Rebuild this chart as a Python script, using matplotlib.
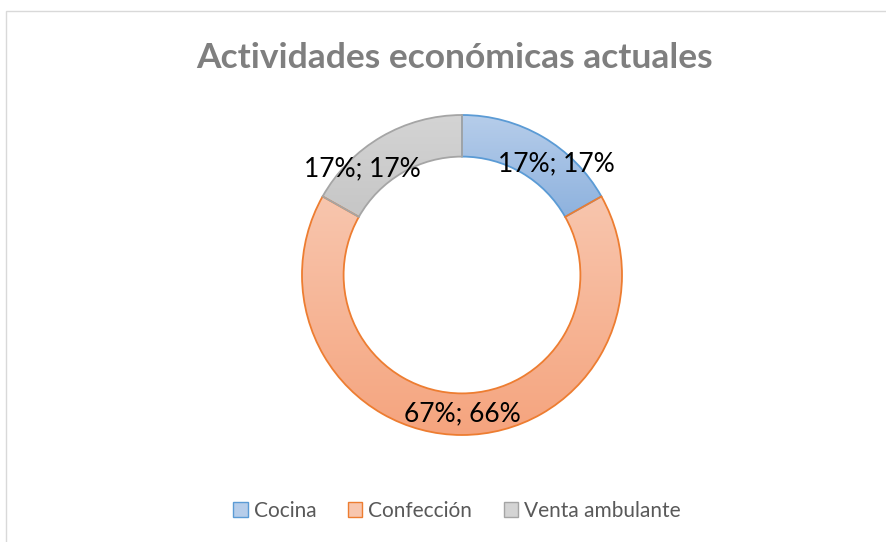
import numpy as np
import matplotlib
matplotlib.use("Agg")
from matplotlib import pyplot as plt
from matplotlib.patches import Wedge, Rectangle
from matplotlib.colors import LinearSegmentedColormap

# datos
categorias = ["Cocina", "Confección", "Venta ambulante"]
valores = [0.17, 0.67, 0.17]

# estilos
color_top = ["#b6cdea", "#f8c6ae", "#d4d4d4"]
color_bot = ["#8eb2de", "#f5a47e", "#c6c6c6"]
color_borde = ["#5b9bd5", "#ed7d31", "#a5a5a5"]
label_nudge = [-10, 0, 13]   # grados, como lo coloca Excel
label_dr = [0.04, 0.0, 0.04]

plt.rcParams['font.family'] = ['Lato', 'DejaVu Sans']

fig = plt.figure(figsize=(8.87, 5.42), dpi=100)

# marco del gráfico
fig.patches.append(Rectangle((6 / 887, -0.01), 1.0, 1 - 11 / 542 + 0.01,
                             transform=fig.transFigure, fill=False,
                             edgecolor="#d9d9d9", linewidth=1.0))

fig.text(455 / 887, 1 - 58 / 542, "Actividades económicas actuales",
         ha="center", va="center", fontsize=25.5, fontweight="bold", color="#7f7f7f")

# ejes del anillo
half = 176
cx, cy = 462, 542 - 275
ax = fig.add_axes([(cx - half) / 887, (cy - half) / 542, 2 * half / 887, 2 * half / 542])
lim = half / 160
ax.set_xlim(-lim, lim)
ax.set_ylim(-lim, lim)
ax.set_aspect("equal")
ax.axis("off")

r_out = 1.0
ancho = 0.26
total = sum(valores)
porcentajes = [v / total for v in valores]

ang = 90.0
for i, v in enumerate(valores):
    theta2 = ang
    theta1 = ang - 360 * v / total
    w = Wedge((0, 0), r_out, theta1, theta2, width=ancho,
              facecolor="none", edgecolor=color_borde[i], linewidth=1.3, zorder=3)
    ax.add_patch(w)

    # relleno con degradado vertical, recortado al sector
    t = np.linspace(theta1, theta2, 200) * np.pi / 180
    ys = np.concatenate([r_out * np.sin(t), (r_out - ancho) * np.sin(t)])
    y0, y1 = ys.min(), ys.max()
    cmap = LinearSegmentedColormap.from_list("g%d" % i, [color_bot[i], color_top[i]])
    grad = np.linspace(0, 1, 256).reshape(-1, 1)
    im = ax.imshow(grad, cmap=cmap, origin="lower", aspect="auto",
                   extent=(-r_out, r_out, y0, y1), zorder=2)
    clip = Wedge((0, 0), r_out, theta1, theta2, width=ancho, transform=ax.transData)
    im.set_clip_path(clip)

    # etiqueta "valor; porcentaje"
    mid = (theta1 + theta2) / 2 + label_nudge[i]
    rl = r_out - ancho / 2 + label_dr[i]
    ax.text(rl * np.cos(np.radians(mid)), rl * np.sin(np.radians(mid)),
            "%d%%; %d%%" % (round(v * 100), round(porcentajes[i] * 100)),
            ha="center", va="center", fontsize=19, color="black", zorder=4)
    ang = theta1

ax.set_xlim(-lim, lim)
ax.set_ylim(-lim, lim)

# leyenda
handles = [Rectangle((0, 0), 1, 1, facecolor=color_top[i], edgecolor=color_borde[i])
           for i in range(len(categorias))]
fig.legend(handles, categorias, loc="center", bbox_to_anchor=(457 / 887, 1 - 511 / 542),
           ncol=3, frameon=False, fontsize=15, labelcolor="#595959",
           handlelength=0.7, handleheight=0.7, handletextpad=0.3, columnspacing=1.5)

fig.savefig("out.png", dpi=100)
